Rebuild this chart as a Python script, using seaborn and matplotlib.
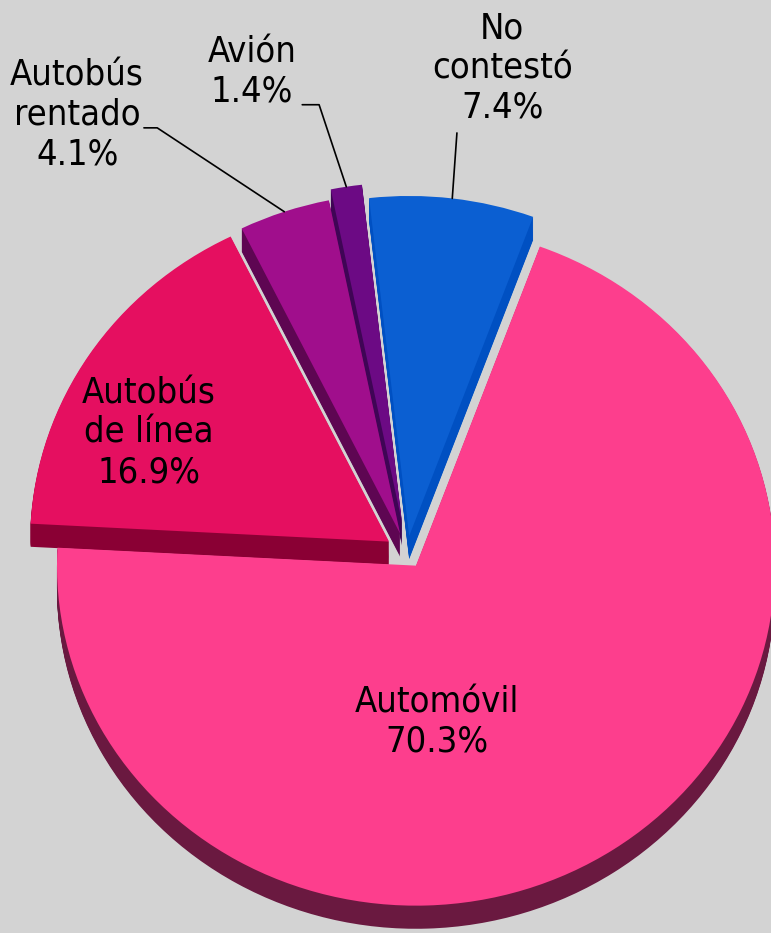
import numpy as np
import matplotlib
matplotlib.use("Agg")
import matplotlib.pyplot as plt
import seaborn as sns

# Datos del gráfico
categories = ["Automóvil", "Autobús\nde línea", "Autobús\nrentado", "Avión", "No\ncontestó"]
percentages = [70.3, 16.9, 4.1, 1.4, 7.4]
pct_labels = ["70.3%", "16.9%", "4.1%", "1.4%", "7.4%"]

# Estilo
top_colors = ["#FD3E8D", "#E50F60", "#A00E8C", "#6C0A84", "#0B5FD2"]
side_colors = ["#6A1940", "#8A0034", "#5E0652", "#3F0555", "#0050C2"]
explode = [0.045, 0.06, 0.06, 0.09, 0.05]
draw_rank = [4, 3, 2, 1, 0]  # orden de apilado (frente -> fondo)
bg = "#D3D3D3"

sns.set_style("white")
plt.rcParams["font.family"] = ["DejaVu Sans"]

fig = plt.figure(figsize=(7.71, 9.33), dpi=100)
fig.patch.set_facecolor(bg)
ax = fig.add_axes([0, 0, 1, 1])
ax.set_facecolor(bg)

# pastel con efecto 3D: capas desplazadas hacia abajo
depth = 0.068
n_layers = 24
top_wedges = None
for k in range(n_layers + 1):
    dy = -depth * (1 - k / n_layers)
    is_top = k == n_layers
    wedges, _ = ax.pie(percentages, explode=explode, startangle=69.8, counterclock=False,
                       colors=top_colors if is_top else side_colors, center=(0, dy),
                       wedgeprops=dict(linewidth=0))
    for w, r in zip(wedges, draw_rank):
        w.set_zorder(r * 100 + k)
    if is_top:
        top_wedges = wedges

ax.set_xlim(-1.134, 1.014)
ax.set_ylim(-1.118, 1.626)
ax.set_aspect("auto")
ax.axis("off")

# etiquetas
label_xy = [(0.084, -0.497), (-0.719, 0.353), (-0.919, 1.288), (-0.432, 1.415), (0.265, 1.426)]
# puntos de quiebre de las líneas guía (None = etiqueta interior)
elbows = [None, None, [(-0.696, 1.25), (-0.733, 1.25)], [(-0.245, 1.318), (-0.292, 1.318)],
          [(0.139, 1.235)]]

text_kw = dict(ha="center", va="center", fontsize=26, fontstretch="condensed",
               color="black", linespacing=1.2, zorder=1000)
for i, (cat, pct) in enumerate(zip(categories, pct_labels)):
    x, y = label_xy[i]
    ax.text(x, y, f"{cat}\n{pct}", **text_kw)
    if elbows[i] is not None:
        w = top_wedges[i]
        mid = np.deg2rad((w.theta1 + w.theta2) / 2)
        sx = w.center[0] + w.r * np.cos(mid)
        sy = w.center[1] + w.r * np.sin(mid)
        pts = [(sx, sy)] + elbows[i]
        ax.plot([p[0] for p in pts], [p[1] for p in pts], color="black", lw=1.2, zorder=999)

plt.savefig("out.png", dpi=100, facecolor=bg)
